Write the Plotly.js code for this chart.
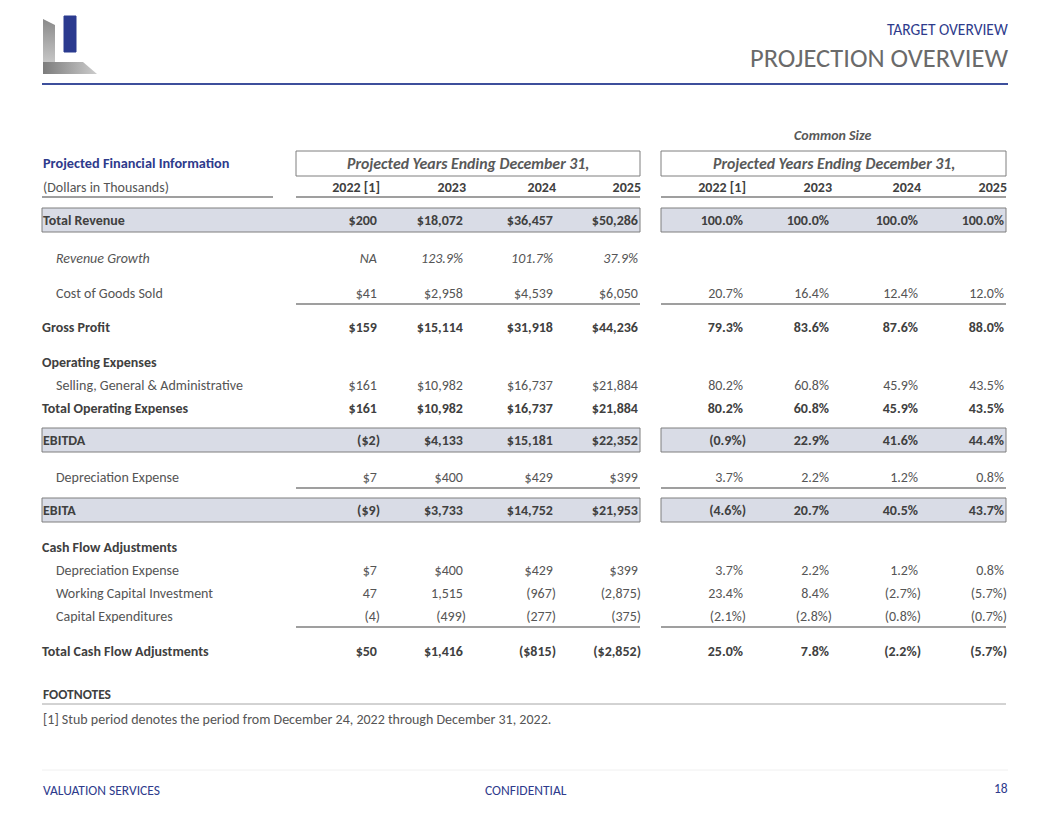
<!DOCTYPE html>
<html>
<head>
<meta charset="utf-8">
<script src="https://cdn.plot.ly/plotly-3.0.1.min.js"></script>
<style>
  html, body { margin: 0; padding: 0; background: #ffffff; }
  #chart { width: 1052px; height: 813px; }
</style>
</head>
<body>
<div id="chart"></div>
<script>
// ---------------- DATA ----------------
var years = ["2022 [1]", "2023", "2024", "2025"];

var revenue          = [200, 18072, 36457, 50286];
var revenuePct       = [100.0, 100.0, 100.0, 100.0];
var revenueGrowth    = [null, 123.9, 101.7, 37.9];
var cogs             = [41, 2958, 4539, 6050];
var cogsPct          = [20.7, 16.4, 12.4, 12.0];
var grossProfit      = [159, 15114, 31918, 44236];
var grossProfitPct   = [79.3, 83.6, 87.6, 88.0];
var sga              = [161, 10982, 16737, 21884];
var sgaPct           = [80.2, 60.8, 45.9, 43.5];
var totalOpex        = [161, 10982, 16737, 21884];
var totalOpexPct     = [80.2, 60.8, 45.9, 43.5];
var ebitda           = [-2, 4133, 15181, 22352];
var ebitdaPct        = [-0.9, 22.9, 41.6, 44.4];
var depreciation     = [7, 400, 429, 399];
var depreciationPct  = [3.7, 2.2, 1.2, 0.8];
var ebita            = [-9, 3733, 14752, 21953];
var ebitaPct         = [-4.6, 20.7, 40.5, 43.7];
var cfDepreciation   = [7, 400, 429, 399];
var cfDepreciationPct= [3.7, 2.2, 1.2, 0.8];
var workingCapital   = [47, 1515, -967, -2875];
var workingCapitalPct= [23.4, 8.4, -2.7, -5.7];
var capex            = [-4, -499, -277, -375];
var capexPct         = [-2.1, -2.8, -0.8, -0.7];
var totalCfa         = [50, 1416, -815, -2852];
var totalCfaPct      = [25.0, 7.8, -2.2, -5.7];

// ---------------- LAYOUT CONSTANTS ----------------
var FONT = "Carlito, Lato, 'Noto Sans', sans-serif";
var TXT = "#555555", TXTB = "#404040", BLUE = "#2e3b8c", GRID = "#7f7f7f";
var BOXFILL = "#d9dce6";
var FS = 14;
var leftCols  = [380, 466, 556, 641];
var rightCols = [746, 832, 921, 1007];
var LX = 42, IX = 56, TY = 1.5;
var L1 = 296, R1 = 640, L2 = 661, R2 = 1006;
var PAD = "\u2008";

function grp(n) { return Math.round(n).toString().replace(/\B(?=(\d{3})+(?!\d))/g, ","); }
function fmtDollar(v) { return v < 0 ? "($" + grp(-v) + ")" : "$" + grp(v) + PAD; }
function fmtPlain(v)  { return v < 0 ? "(" + grp(-v) + ")" : grp(v) + PAD; }
function fmtPct(v)    { if (v === null) return "NA" + PAD; return v < 0 ? "(" + (-v).toFixed(1) + "%)" : v.toFixed(1) + "%" + PAD; }

var rows = [
  {label: "Total Revenue", v: revenue, p: revenuePct, y: 220, box: true, fmt: fmtDollar},
  {label: "Revenue Growth", v: revenueGrowth, y: 258, indent: true, italic: true, fmt: fmtPct},
  {label: "Cost of Goods Sold", v: cogs, p: cogsPct, y: 293, indent: true, under: true, fmt: fmtDollar},
  {label: "Gross Profit", v: grossProfit, p: grossProfitPct, y: 327, bold: true, fmt: fmtDollar},
  {label: "Operating Expenses", y: 362, bold: true},
  {label: "Selling, General & Administrative", v: sga, p: sgaPct, y: 385, indent: true, fmt: fmtDollar},
  {label: "Total Operating Expenses", v: totalOpex, p: totalOpexPct, y: 408, bold: true, fmt: fmtDollar},
  {label: "EBITDA", v: ebitda, p: ebitdaPct, y: 440, box: true, fmt: fmtDollar},
  {label: "Depreciation Expense", v: depreciation, p: depreciationPct, y: 477, indent: true, under: true, fmt: fmtDollar},
  {label: "EBITA", v: ebita, p: ebitaPct, y: 510, box: true, fmt: fmtDollar},
  {label: "Cash Flow Adjustments", y: 547, bold: true},
  {label: "Depreciation Expense", v: cfDepreciation, p: cfDepreciationPct, y: 570, indent: true, fmt: fmtDollar},
  {label: "Working Capital Investment", v: workingCapital, p: workingCapitalPct, y: 593, indent: true, fmt: fmtPlain},
  {label: "Capital Expenditures", v: capex, p: capexPct, y: 616, indent: true, under: true, fmt: fmtPlain},
  {label: "Total Cash Flow Adjustments", v: totalCfa, p: totalCfaPct, y: 651, bold: true, fmt: fmtDollar}
];

// ---------------- BUILD TEXT TRACES ----------------
var groups = {};
function add(key, x, y, t) {
  if (!groups[key]) groups[key] = {x: [], y: [], t: []};
  groups[key].x.push(x); groups[key].y.push(y + TY); groups[key].t.push(t);
}
years.forEach(function (yr, i) {
  add("num|bold|normal", leftCols[i], 187, yr);
  add("num|bold|normal", rightCols[i], 187, yr);
});
rows.forEach(function (r) {
  var w = (r.bold || r.box) ? "bold" : "normal";
  var st = r.italic ? "italic" : "normal";
  add("lab|" + w + "|" + st, r.box ? LX + 1 : (r.indent ? IX : LX), r.y, r.label);
  if (r.v) r.v.forEach(function (v, i) { add("num|" + w + "|" + st, leftCols[i], r.y, r.fmt(v)); });
  if (r.p) r.p.forEach(function (v, i) { add("num|" + w + "|" + st, rightCols[i], r.y, fmtPct(v)); });
});

var traces = [];
traces.push({
  x: [43, 55, 55, 43, 43], y: [19, 25, 70, 74, 19], mode: "lines", fill: "toself",
  line: {width: 0}, fillcolor: "#a8a8a8", hoverinfo: "skip", showlegend: false,
  fillgradient: {type: "vertical", colorscale: [[0, "#d6d6d6"], [1, "#8a8a8a"]]}
});
traces.push({
  x: [43, 55, 83, 97, 43, 43], y: [62, 62, 62, 74, 74, 62], mode: "lines", fill: "toself",
  line: {width: 0}, fillcolor: "#a0a0a0", hoverinfo: "skip", showlegend: false,
  fillgradient: {type: "horizontal", colorscale: [[0, "#7c7c7c"], [1, "#cccccc"]]}
});

Object.keys(groups).forEach(function (k) {
  var parts = k.split("|"), g = groups[k];
  traces.push({
    x: g.x, y: g.y, text: g.t, mode: "text", type: "scatter",
    textposition: parts[0] === "lab" ? "middle right" : "middle left",
    textfont: {family: FONT, size: FS, color: parts[1] === "bold" ? TXTB : TXT,
               weight: parts[1] === "bold" ? 700 : 400, style: parts[2]},
    hoverinfo: "skip", showlegend: false, cliponaxis: false
  });
});

// ---------------- SHAPES ----------------
var shapes = [];
function line(x0, x1, y, color, w) { shapes.push({type: "line", xref: "x", yref: "y", x0: x0, x1: x1, y0: y, y1: y, line: {color: color, width: w}}); }
function rect(x0, x1, y0, y1, fill, color) { shapes.push({type: "rect", xref: "x", yref: "y", x0: x0, x1: x1, y0: y0, y1: y1, fillcolor: fill, line: {color: color, width: 1}, layer: "below"}); }

rect(64, 76, 16, 52, "#2b3a8f", "#2b3a8f");
line(42, 1008, 84, "#3d4f9c", 2);
rect(L1, R1, 151, 176, "rgba(0,0,0,0)", GRID);
rect(L2, R2, 151, 176, "rgba(0,0,0,0)", GRID);
line(LX, 273, 197, GRID, 1.3);
line(L1, R1, 197, GRID, 1.3);
line(L2, R2, 197, GRID, 1.3);
rows.forEach(function (r) {
  if (r.box) { rect(LX, R1, r.y - 12, r.y + 12, BOXFILL, GRID); rect(L2, R2, r.y - 12, r.y + 12, BOXFILL, GRID); }
  if (r.under) { line(L1, R1, r.y + 11, GRID, 1.3); line(L2, R2, r.y + 11, GRID, 1.3); }
});
line(LX, R2, 704, "#a6a6a6", 1);
line(LX, 1008, 770, "#f0f0f0", 1);

// ---------------- ANNOTATIONS ----------------
function ann(text, x, y, anchor, size, color, weight, style) {
  return {text: text, x: x, y: y, xref: "x", yref: "y", xanchor: anchor, yanchor: "middle", showarrow: false,
          font: {family: FONT, size: size, color: color, weight: weight || 400, style: style || "normal"}};
}
var annotations = [
  ann("TARGET OVERVIEW", 1010, 29, "right", 15.5, BLUE),
  ann("PROJECTION OVERVIEW", 1010, 58, "right", 26.5, "#6a6a6a"),
  ann("Common Size", 832, 135, "center", 14, "#595959", 700, "italic"),
  ann("Projected Financial Information", LX - 1, 163, "left", 14.3, BLUE, 700),
  ann("Projected Years Ending December 31,", (L1 + R1) / 2, 163, "center", 15.8, "#595959", 700, "italic"),
  ann("Projected Years Ending December 31,", (L2 + R2) / 2, 163, "center", 15.8, "#595959", 700, "italic"),
  ann("(Dollars in Thousands)", LX - 1, 187, "left", FS, TXT),
  ann("FOOTNOTES", LX - 1, 694, "left", 13.5, TXTB, 700),
  ann("[1] Stub period denotes the period from December 24, 2022 through December 31, 2022.", LX - 1, 719, "left", 14, TXT),
  ann("VALUATION SERVICES", LX - 1, 790, "left", 13.5, BLUE),
  ann("CONFIDENTIAL", 526, 790, "center", 13.5, BLUE),
  ann("18", 1010, 788, "right", 13.5, BLUE)
];

var layout = {
  width: 1052, height: 813, margin: {l: 0, r: 0, t: 0, b: 0},
  paper_bgcolor: "#ffffff", plot_bgcolor: "#ffffff", showlegend: false,
  xaxis: {range: [0, 1052], visible: false, fixedrange: true},
  yaxis: {range: [813, 0], visible: false, fixedrange: true},
  shapes: shapes, annotations: annotations, hovermode: false
};
Plotly.newPlot("chart", traces, layout, {staticPlot: true, displayModeBar: false});
</script>
</body>
</html>
